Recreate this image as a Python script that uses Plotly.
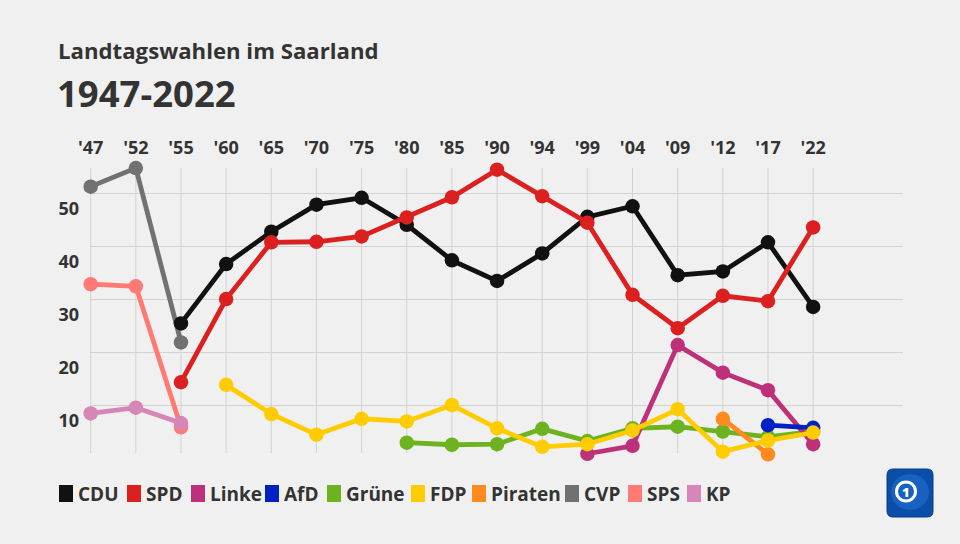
import plotly.graph_objects as go

years = ["'47", "'52", "'55", "'60", "'65", "'70", "'75", "'80", "'85", "'90",
         "'94", "'99", "'04", "'09", "'12", "'17", "'22"]

N = None
cdu = [N, N, 25.4, 36.6, 42.7, 47.8, 49.1, 44.0, 37.3, 33.4, 38.6, 45.5, 47.5, 34.5, 35.2, 40.7, 28.5]
spd = [N, N, 14.3, 30.0, 40.7, 40.8, 41.8, 45.4, 49.2, 54.4, 49.4, 44.4, 30.8, 24.5, 30.6, 29.6, 43.5]
linke = [N] * 11 + [0.8, 2.3, 21.3, 16.1, 12.8, 2.6]
afd = [N] * 15 + [6.2, 5.7]
gruene = [N] * 7 + [2.9, 2.5, 2.6, 5.5, 3.2, 5.6, 5.9, 5.0, 4.0, 5.0]
fdp = [N] * 3 + [13.8, 8.3, 4.4, 7.4, 6.9, 10.0, 5.6, 2.1, 2.6, 5.2, 9.2, 1.2, 3.3, 4.8]
piraten = [N] * 14 + [7.4, 0.7, N]
cvp = [51.2, 54.7, 21.8] + [N] * 14
sps = [32.8, 32.4, 5.8] + [N] * 14
kp = [8.4, 9.5, 6.6] + [N] * 14

parties = ["CDU", "SPD", "Linke", "AfD", "Grüne", "FDP", "Piraten", "CVP", "SPS", "KP"]
colors = {
    "CDU": "#111111", "SPD": "#dc1f1f", "Linke": "#be317a", "AfD": "#0022c4",
    "Grüne": "#6cb31f", "FDP": "#ffcc00", "Piraten": "#ff8a1e", "CVP": "#717171",
    "SPS": "#ff7a74", "KP": "#d886b7",
}
values = {"CDU": cdu, "SPD": spd, "Linke": linke, "AfD": afd, "Grüne": gruene,
          "FDP": fdp, "Piraten": piraten, "CVP": cvp, "SPS": sps, "KP": kp}
draw_order = ["CVP", "SPS", "KP", "Grüne", "Linke", "AfD", "Piraten", "CDU", "SPD", "FDP"]

Y_TOP = 54.72
Y_GRID_BOTTOM = 0.943

xs = list(range(len(years)))
fig = go.Figure()
for p in draw_order:
    fig.add_trace(go.Scatter(
        x=xs, y=values[p], mode="lines+markers", name=p, showlegend=False,
        line=dict(color=colors[p], width=4.8),
        marker=dict(color=colors[p], size=14.5),
        connectgaps=False, cliponaxis=False,
    ))

W, H = 960, 544
L, R, T, B = 90, 903, 168, 458

def px(x):
    return (x - L) / (R - L)

def py(y):
    return (B - y) / (B - T)

FONT = "Open Sans"
TXT = "#333333"
shapes = []
annotations = []

# vertical gridlines (one per election), spanning the value range only
for i in xs:
    shapes.append(dict(type="line", xref="x", yref="y", x0=i, x1=i,
                       y0=Y_GRID_BOTTOM, y1=Y_TOP, layer="below",
                       line=dict(color="#d2d2d2", width=1)))

# titles
annotations.append(dict(x=px(56), y=py(50), xref="paper", yref="paper", xanchor="left", yanchor="middle",
                        text="Landtagswahlen im Saarland", showarrow=False,
                        font=dict(family=FONT, size=22.2, color=TXT, weight=700)))
annotations.append(dict(x=px(55), y=py(93), xref="paper", yref="paper", xanchor="left", yanchor="middle",
                        text="1947-2022", showarrow=False,
                        font=dict(family=FONT, size=36.5, color=TXT, weight=700)))

# legend (squares + labels)
leg_x = {"CDU": 59, "SPD": 127, "Linke": 191, "AfD": 265, "Grüne": 327,
         "FDP": 411, "Piraten": 472, "CVP": 565, "SPS": 628, "KP": 687}
for p in parties:
    x0 = leg_x[p]
    shapes.append(dict(type="rect", xref="paper", yref="paper",
                       x0=px(x0), x1=px(x0 + 14), y0=py(502), y1=py(485),
                       fillcolor=colors[p], line=dict(width=0)))
    annotations.append(dict(x=px(x0 + 16.5), y=py(494), xref="paper", yref="paper",
                            xanchor="left", yanchor="middle", text=p, showarrow=False,
                            font=dict(family=FONT, size=19, color=TXT, weight=700)))

# logo
lx0, lx1, ly0, ly1, r = 887, 933, 469, 517, 6
path = (f"M {px(lx0 + r)},{py(ly0)} L {px(lx1 - r)},{py(ly0)} Q {px(lx1)},{py(ly0)} {px(lx1)},{py(ly0 + r)} "
        f"L {px(lx1)},{py(ly1 - r)} Q {px(lx1)},{py(ly1)} {px(lx1 - r)},{py(ly1)} "
        f"L {px(lx0 + r)},{py(ly1)} Q {px(lx0)},{py(ly1)} {px(lx0)},{py(ly1 - r)} "
        f"L {px(lx0)},{py(ly0 + r)} Q {px(lx0)},{py(ly0)} {px(lx0 + r)},{py(ly0)} Z")
shapes.append(dict(type="path", xref="paper", yref="paper", path=path,
                   fillcolor="#0a4ea8", line=dict(color="#083c86", width=1)))
shapes.append(dict(type="circle", xref="paper", yref="paper",
                   x0=px(891), x1=px(929), y0=py(510), y1=py(474),
                   fillcolor="#1f6fd0", line=dict(width=0), opacity=0.6))
shapes.append(dict(type="circle", xref="paper", yref="paper",
                   x0=px(896.5), x1=px(915.5), y0=py(501), y1=py(482),
                   fillcolor="rgba(0,0,0,0)", line=dict(color="white", width=3)))
annotations.append(dict(x=px(906), y=py(491.5), xref="paper", yref="paper",
                        xanchor="center", yanchor="middle", text="1", showarrow=False,
                        font=dict(family=FONT, size=13, color="white", weight=800)))

fig.update_layout(
    width=W, height=H,
    margin=dict(l=L, r=W - R, t=T, b=H - B, pad=0),
    paper_bgcolor="#f0f0f0", plot_bgcolor="#f0f0f0",
    showlegend=False,
    shapes=shapes, annotations=annotations,
    xaxis=dict(
        range=[-0.015, 17.99], side="top",
        tickmode="array", tickvals=xs, ticktext=years,
        showgrid=False,
        zeroline=False, showline=False, ticks="",
        tickfont=dict(family=FONT, size=18, color=TXT, weight=700),
        ticklabelstandoff=9,
    ),
    yaxis=dict(
        range=[0, Y_TOP],
        tickmode="array", tickvals=[10, 20, 30, 40, 50], ticktext=["10", "20", "30", "40", "50"],
        showgrid=True, gridcolor="#d2d2d2", gridwidth=1,
        zeroline=False, showline=False, ticks="",
        tickfont=dict(family=FONT, size=18, color=TXT, weight=700),
        ticklabelshift=16, ticklabelstandoff=10,
    ),
)

fig.write_html("out.html")
